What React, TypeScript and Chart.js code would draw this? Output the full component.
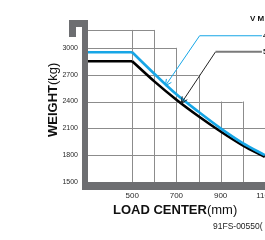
import React, { useEffect, useRef } from 'react';
import { Chart, registerables } from 'chart.js';

Chart.register(...registerables);

// ---- data ----
const loadCenters = [300, 500, 600, 700, 800, 900, 1000, 1100];
const weightA = [2950, 2950, 2710, 2480, 2285, 2100, 1935, 1800];
const weightB = [2850, 2850, 2625, 2420, 2235, 2065, 1910, 1780];

const xTickValues = [500, 700, 900, 1100];
const yTickValues = [1500, 1800, 2100, 2400, 2700, 3000];

// stepped background grid
const gridColumns = [500, 600, 700, 800, 900, 1000, 1100];
const gridColumnTops = [3200, 3200, 3000, 2700, 2400, 2400, 2100];
const gridRows = [1800, 2100, 2400, 2700, 3000, 3200];
const gridRowEnds = [1300, 1300, 1000, 800, 700, 600];

// callouts: [tip, elbow, end] in data units
const calloutA = [[650, 2575], [805, 3135], [1087, 3135]];
const calloutB = [[722, 2380], [877, 2955], [1087, 2955]];
const calloutLabels = ['4', '5'];

const X_MIN = 300;
const X_MAX = 1300;
const Y_MIN = 1500;
const Y_MAX = 3300;

const FONT = '"Liberation Sans", Arial, Helvetica, sans-serif';
const BLUE = '#17a6e6';
const BAR = '#6d6e71';

const pts = (ys: number[]) => loadCenters.map((x, i) => ({ x, y: ys[i] }));

function arrowHead(ctx: CanvasRenderingContext2D, tx: number, ty: number, fx: number, fy: number, len: number) {
  const a = Math.atan2(fy - ty, fx - tx);
  const s = 0.45;
  ctx.beginPath();
  ctx.moveTo(tx + len * Math.cos(a - s), ty + len * Math.sin(a - s));
  ctx.lineTo(tx, ty);
  ctx.lineTo(tx + len * Math.cos(a + s), ty + len * Math.sin(a + s));
  ctx.stroke();
}

const decorPlugin = {
  id: 'decor',
  beforeDatasetsDraw(chart: any) {
    const { ctx, chartArea } = chart;
    const xs = chart.scales.x;
    const ys = chart.scales.y;
    ctx.save();
    ctx.strokeStyle = '#8c8c8c';
    ctx.lineWidth = 1;
    const yBase = ys.getPixelForValue(Y_MIN);
    gridColumns.forEach((v, i) => {
      const px = Math.round(xs.getPixelForValue(v)) + 0.5;
      ctx.beginPath();
      ctx.moveTo(px, yBase);
      ctx.lineTo(px, ys.getPixelForValue(gridColumnTops[i]));
      ctx.stroke();
    });
    gridRows.forEach((v, i) => {
      const py = Math.round(ys.getPixelForValue(v)) + 0.5;
      ctx.beginPath();
      ctx.moveTo(chartArea.left, py);
      ctx.lineTo(xs.getPixelForValue(gridRowEnds[i]), py);
      ctx.stroke();
    });
    // thick axis frame
    ctx.fillStyle = BAR;
    const l = chartArea.left;
    const t = chartArea.top - 1;
    const b = chartArea.bottom;
    ctx.fillRect(l - 6, t, 6, b + 8 - t);
    ctx.fillRect(l - 19, t, 19, 7);
    ctx.fillRect(l - 19, t, 7, 17);
    ctx.fillRect(l - 6, b, chartArea.right - l + 20, 8);
    ctx.restore();
  },
  afterDatasetsDraw(chart: any) {
    const { ctx } = chart;
    const xs = chart.scales.x;
    const ys = chart.scales.y;
    const P = (p: number[]) => [xs.getPixelForValue(p[0]), ys.getPixelForValue(p[1])];
    ctx.save();
    // callout A (blue)
    {
      const [t, e, n] = calloutA.map(P);
      ctx.strokeStyle = BLUE;
      ctx.lineWidth = 1;
      ctx.beginPath();
      ctx.moveTo(t[0], t[1]);
      ctx.lineTo(e[0], e[1]);
      ctx.lineTo(n[0], n[1]);
      ctx.stroke();
      arrowHead(ctx, t[0], t[1], e[0], e[1], 7);
      ctx.fillStyle = '#222';
      ctx.font = `bold 8px ${FONT}`;
      ctx.textBaseline = 'middle';
      ctx.textAlign = 'left';
      ctx.fillText(calloutLabels[0], n[0] + 1, n[1]);
    }
    // callout B (black)
    {
      const [t, e, n] = calloutB.map(P);
      ctx.strokeStyle = '#222';
      ctx.lineWidth = 1;
      ctx.beginPath();
      ctx.moveTo(t[0], t[1]);
      ctx.lineTo(e[0], e[1]);
      ctx.stroke();
      arrowHead(ctx, t[0], t[1], e[0], e[1], 7);
      ctx.strokeStyle = '#7a7a7a';
      ctx.lineWidth = 2;
      ctx.beginPath();
      ctx.moveTo(e[0], e[1]);
      ctx.lineTo(n[0], n[1]);
      ctx.stroke();
      ctx.fillStyle = '#222';
      ctx.font = `bold 8px ${FONT}`;
      ctx.textBaseline = 'middle';
      ctx.textAlign = 'left';
      ctx.fillText(calloutLabels[1], n[0] + 1, n[1]);
    }
    ctx.restore();
  },
  afterDraw(chart: any) {
    const { ctx } = chart;
    ctx.save();
    ctx.fillStyle = '#111';
    ctx.textBaseline = 'alphabetic';
    ctx.textAlign = 'left';
    // x title
    ctx.font = `bold 13px ${FONT}`;
    const a = 'LOAD CENTER';
    const x0 = 113;
    ctx.fillText(a, x0, 214);
    const w = ctx.measureText(a).width;
    ctx.font = `13px ${FONT}`;
    ctx.fillText('(mm)', x0 + w, 214);
    // y title
    ctx.save();
    ctx.translate(57, 137);
    ctx.rotate(-Math.PI / 2);
    ctx.font = `bold 13px ${FONT}`;
    ctx.fillText('WEIGHT', 0, 0);
    const w2 = ctx.measureText('WEIGHT').width;
    ctx.font = `13px ${FONT}`;
    ctx.fillText('(kg)', w2, 0);
    ctx.restore();
    // heading (clipped)
    ctx.font = `bold 8px ${FONT}`;
    ctx.textBaseline = 'middle';
    ctx.fillStyle = '#111';
    ctx.fillText('V M', 250, 19);
    // figure code
    ctx.font = `8.5px ${FONT}`;
    ctx.fillStyle = '#222';
    ctx.fillText('91FS-00550(', 213, 227);
    ctx.restore();
  },
};

export default function App() {
  const ref = useRef<HTMLCanvasElement | null>(null);
  useEffect(() => {
    if (!ref.current) return;
    const chart = new Chart(ref.current, {
      type: 'line',
      data: {
        datasets: [
          { data: pts(weightA).slice(0, 2), borderColor: BLUE, borderWidth: 2.6, pointRadius: 0, tension: 0 },
          { data: pts(weightA).slice(1), borderColor: BLUE, borderWidth: 2.6, pointRadius: 0, cubicInterpolationMode: 'monotone' },
          { data: pts(weightB).slice(0, 2), borderColor: '#000', borderWidth: 2.6, pointRadius: 0, tension: 0 },
          { data: pts(weightB).slice(1), borderColor: '#000', borderWidth: 2.6, pointRadius: 0, cubicInterpolationMode: 'monotone' },
        ],
      },
      options: {
        animation: false,
        responsive: false,
        maintainAspectRatio: false,
        devicePixelRatio: 1,
        layout: { padding: { top: 21, right: 11, left: 0, bottom: 0 } },
        plugins: { legend: { display: false }, tooltip: { enabled: false } },
        scales: {
          x: {
            type: 'linear',
            min: X_MIN,
            max: X_MAX,
            grid: { display: false, drawTicks: false },
            border: { display: false },
            afterBuildTicks: (s: any) => { s.ticks = xTickValues.map((v) => ({ value: v })); },
            afterFit: (s: any) => { s.height = 58; },
            ticks: { autoSkip: false, maxRotation: 0, padding: 9, color: '#2a2a2a', font: { family: FONT, size: 8 }, callback: (v: any) => String(v) },
          },
          y: {
            type: 'linear',
            min: Y_MIN,
            max: Y_MAX,
            grid: { display: false, drawTicks: false },
            border: { display: false },
            afterBuildTicks: (s: any) => { s.ticks = yTickValues.map((v) => ({ value: v })); },
            afterFit: (s: any) => { s.width = 88; },
            ticks: { autoSkip: false, padding: 10, color: '#2a2a2a', font: { family: FONT, size: 7 }, callback: (v: any) => String(v) },
          },
        },
      } as any,
      plugins: [decorPlugin],
    });
    return () => chart.destroy();
  }, []);
  return (
    <div style={{ position: 'fixed', left: 0, top: 0, width: 265, height: 240, overflow: 'hidden', background: '#fff' }}>
      <canvas ref={ref} width={320} height={240} style={{ display: 'block' }} />
    </div>
  );
}
